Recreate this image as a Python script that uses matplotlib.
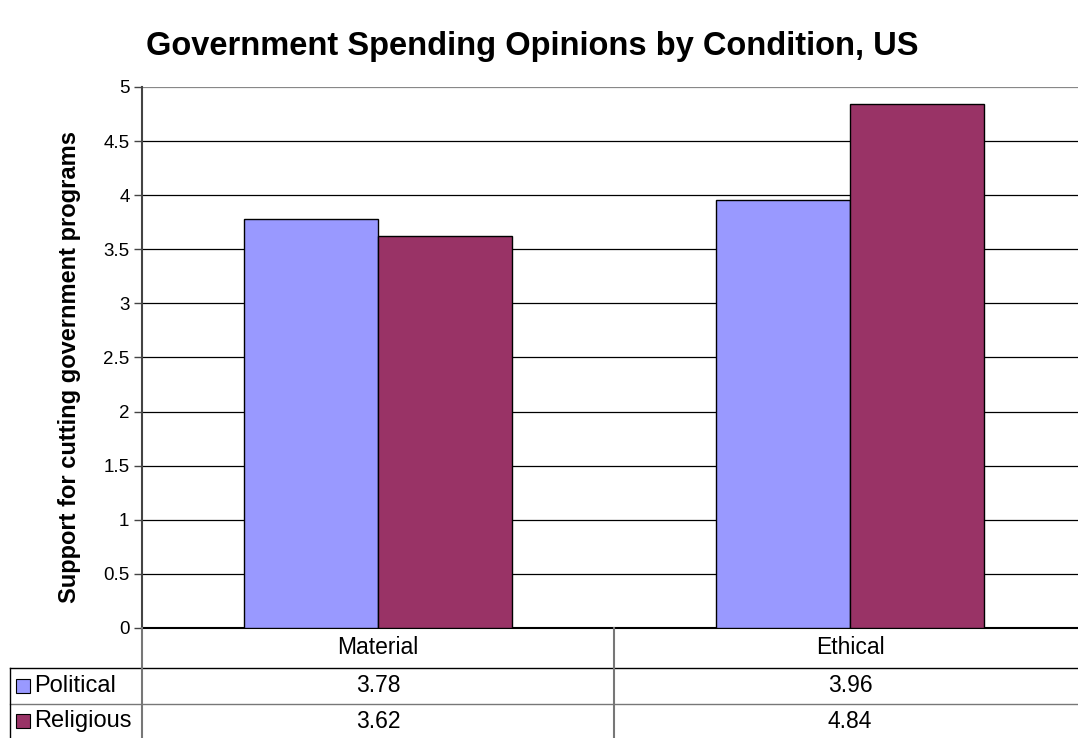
import numpy as np
import matplotlib.pyplot as plt

plt.rcParams['font.family'] = ['Liberation Sans', 'DejaVu Sans']

categories = ["Material", "Ethical"]
series = ["Political", "Religious"]
political = [3.78, 3.96]
religious = [3.62, 4.84]
colors = ["#9999FF", "#993366"]

W, H = 1078, 738
fig = plt.figure(figsize=(W / 100, H / 100), dpi=100)

# plot area in pixels (left, top, right, bottom)
px_l, px_t, px_r, px_b = 142, 87, 1086, 628
ax = fig.add_axes([px_l / W, 1 - px_b / H, (px_r - px_l) / W, (px_b - px_t) / H])

x = np.arange(len(categories))
bw = 0.284
ax.bar(x - bw / 2, political, bw, color=colors[0], edgecolor="black", linewidth=1, zorder=3)
ax.bar(x + bw / 2, religious, bw, color=colors[1], edgecolor="black", linewidth=1, zorder=3)

ax.set_xlim(-0.5, len(categories) - 0.5)
ax.set_ylim(0, 5)
ticks = np.arange(0, 5.01, 0.5)
ax.set_yticks(ticks)
ax.set_yticklabels([f"{v:g}" for v in ticks], fontsize=13.5)
ax.set_xticks([])
ax.yaxis.grid(True, color="black", linewidth=0.9, zorder=0)
ax.get_ygridlines()[-1].set_color("#888888")
for s in ["top", "right"]:
    ax.spines[s].set_visible(False)
ax.spines["left"].set_color("#444444")
ax.spines["left"].set_linewidth(1.5)
ax.spines["bottom"].set_linewidth(1.5)
ax.tick_params(axis="y", length=6, width=1, color="#444444", pad=3)
ax.set_ylabel("Support for cutting government programs", fontsize=17, fontweight="bold")
ax.yaxis.set_label_coords((70 - px_l) / (px_r - px_l), (px_b - 367) / (px_b - px_t))
ax.yaxis.label.set_va("center")

fig.text(532 / W, 1 - 47 / H, "Government Spending Opinions by Condition, US",
         ha="center", va="center", fontsize=23.5, fontweight="bold")

# data table below the axis (figure pixel coords)
def fx(p):
    return p / W

def fy(p):
    return 1 - p / H

def hline(y, x0, x1, c="black", lw=1):
    fig.add_artist(plt.Line2D([fx(x0), fx(x1)], [fy(y), fy(y)], color=c, lw=lw, transform=fig.transFigure))

def vline(xp, y0, y1, c="#777777", lw=1.5):
    fig.add_artist(plt.Line2D([fx(xp), fx(xp)], [fy(y0), fy(y1)], color=c, lw=lw, transform=fig.transFigure))

rows_y = [628, 668, 704, 738]
hline(668, 10, W, "black", 1)
hline(704, 10, W, "#777777", 1)
vline(10, 668, 738, "black", 1)
vline(142, 628, 738)
vline(614, 628, 738)

col_centers = [378, 850]
for cx, cat in zip(col_centers, categories):
    fig.text(fx(cx), fy(648), cat, ha="center", va="center", fontsize=16.5)

table_vals = [political, religious]
for r, (name, vals, col) in enumerate(zip(series, table_vals, colors)):
    yc = (rows_y[r + 1] + rows_y[r + 2]) / 2
    fig.add_artist(plt.Rectangle((fx(16), fy(yc + 7)), 14 / W, 14 / H, facecolor=col,
                                 edgecolor="black", lw=0.8, transform=fig.transFigure))
    fig.text(fx(34), fy(yc), name, ha="left", va="center", fontsize=17)
    for cx, v in zip(col_centers, vals):
        fig.text(fx(cx), fy(yc), f"{v:.2f}", ha="center", va="center", fontsize=16.5)

fig.savefig("out.png", dpi=100)
